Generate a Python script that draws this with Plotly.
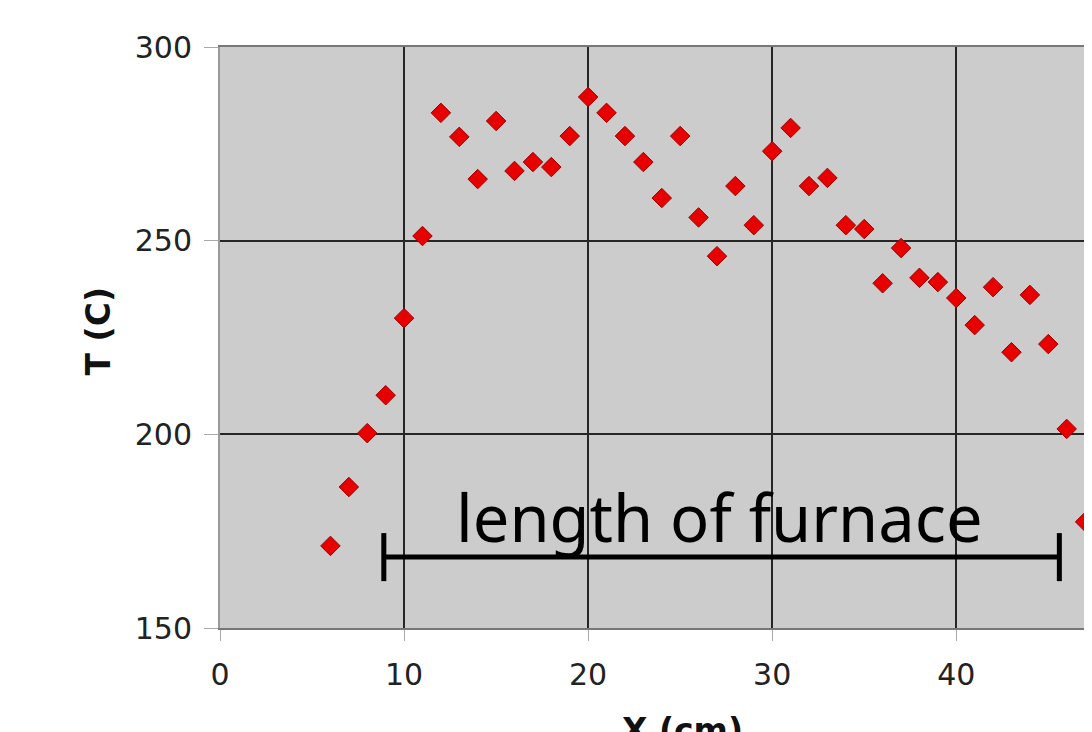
import plotly.graph_objects as go

# Data
x_cm = [6, 7, 8, 9, 10, 11, 12, 13, 14, 15, 16, 17, 18, 19, 20, 21, 22, 23, 24, 25, 26,
        27, 28, 29, 30, 31, 32, 33, 34, 35, 36, 37, 38, 39, 40, 41, 42, 43, 44, 45, 46, 47]
temp_c = [171.2, 186.4, 200.3, 210.1, 230.0, 251.2, 283.0, 276.8, 265.9, 280.9, 268.0,
          270.3, 269.0, 277.0, 287.1, 283.0, 277.0, 270.3, 261.0, 277.0, 256.0, 246.0,
          264.1, 254.0, 273.1, 279.1, 264.1, 266.2, 254.0, 253.0, 239.0, 248.1, 240.4,
          239.3, 235.2, 228.2, 238.0, 221.2, 236.0, 223.3, 201.4, 177.4]

furnace_start = 8.9
furnace_end = 45.6
furnace_bar_T = 168.3
furnace_label = "length of furnace"

x_ticks = [0, 10, 20, 30, 40]
y_ticks = [150, 200, 250, 300]
x_title = "<b>X (cm)</b>"
y_title = "<b>T (C)</b>"

fig = go.Figure()
fig.add_trace(go.Scatter(
    x=x_cm, y=temp_c, mode="markers",
    marker=dict(symbol="diamond", size=15, color="#e60000",
                line=dict(color="#a00000", width=1)),
    showlegend=False,
))

# Furnace length bar
fig.add_shape(type="line", xref="x", yref="y", x0=furnace_start, x1=furnace_end,
              y0=furnace_bar_T, y1=furnace_bar_T, line=dict(color="black", width=5))
for xe in (furnace_start, furnace_end):
    fig.add_shape(type="line", xref="x", yref="y", x0=xe, x1=xe,
                  y0=furnace_bar_T - 6.2, y1=furnace_bar_T + 6.2,
                  line=dict(color="black", width=5))

fig.add_annotation(x=27.15, y=178.6, xref="x", yref="y",
                   text=furnace_label, showarrow=False, xanchor="center", yanchor="middle",
                   font=dict(family="Noto Sans", size=65, color="black"))

# Axis titles
fig.add_annotation(x=25.15, y=-0.139, xref="x", yref="paper", text=x_title,
                   showarrow=False, xanchor="center", yanchor="top",
                   font=dict(family="DejaVu Sans", size=33, color="#111111"))
fig.add_annotation(x=-0.1386, y=0.511, xref="paper", yref="paper", text=y_title,
                   showarrow=False, xanchor="center", yanchor="middle", textangle=-90,
                   font=dict(family="DejaVu Sans", size=33, color="#111111"))

fig.update_layout(
    width=1092, height=732,
    margin=dict(l=212, r=0, t=39, b=112),
    paper_bgcolor="white", plot_bgcolor="#cccccc",
    font=dict(family="DejaVu Sans", color="#222222"),
)
fig.update_xaxes(
    range=[0, 47.7], tickvals=x_ticks, ticktext=[str(v) for v in x_ticks],
    showgrid=True, gridcolor="#262626", gridwidth=1.5,
    showline=True, linecolor="#777777", linewidth=2, mirror=True,
    ticks="outside", ticklen=11, tickcolor="#aaaaaa", tickwidth=1,
    ticklabelstandoff=8,
    tickfont=dict(size=30, family="DejaVu Sans", color="#222222"),
    zeroline=False,
)
fig.update_yaxes(
    range=[150, 300], tickvals=y_ticks, ticktext=[str(v) for v in y_ticks],
    showgrid=True, gridcolor="#262626", gridwidth=1.5,
    showline=True, linecolor="#999999", linewidth=2, mirror=True,
    ticks="outside", ticklen=14, tickcolor="#aaaaaa", tickwidth=1,
    ticklabelstandoff=6,
    tickfont=dict(size=30, family="DejaVu Sans", color="#222222"),
    zeroline=False,
)

fig.write_html("out.html")
